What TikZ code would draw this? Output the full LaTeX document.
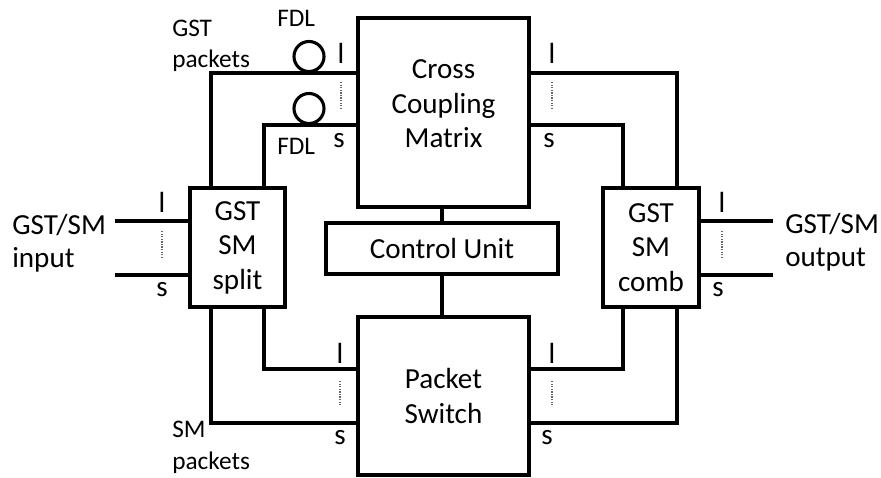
\documentclass[tikz,border=0pt]{standalone}
\usepackage{fontspec}
\setmainfont{Carlito}
\usetikzlibrary{positioning}
\tikzset{
  wire/.style={line width=2.2pt},
  blk/.style={draw,line width=2.2pt,fill=white,align=center,inner sep=0pt,font=\fontsize{20.7}{24.5}\selectfont},
  blktxt/.style={align=center,inner sep=0pt,font=\fontsize{20.7}{24.5}\selectfont},
  port/.style={anchor=base,inner sep=0pt,font=\fontsize{20.7}{24}\selectfont},
  io/.style={anchor=base west,align=left,inner sep=0pt,font=\fontsize{20.7}{23.5}\selectfont},
  note/.style={anchor=base west,align=left,inner sep=0pt,font=\fontsize{18}{22.5}\selectfont},
  fdl/.style={circle,draw,line width=2.2pt,fill=white,minimum size=0.75cm,inner sep=0pt},
  gap/.style={densely dotted,gray!80!black,line width=0.8pt,shorten <=0.45cm,shorten >=0.6cm},
}
\begin{document}
\begin{tikzpicture}[x=0.025cm,y=-0.025cm]
\useasboundingbox (0,0) rectangle (881,478);
% blocks
\node[blk,minimum width=4.275cm,minimum height=4.725cm,
  label={[blktxt,yshift=0.22cm]center:Cross\\Coupling\\Matrix}] (ccm) at (443.5,112.5) {};
\node[blk,minimum width=4.275cm,minimum height=3.95cm] (ps) at (443.5,396) {Packet\\Switch};
\node[blk,minimum width=5.8cm,minimum height=1.275cm] (cu) at (442,248.5) {Control Unit};
\node[blk,minimum width=2.375cm,minimum height=2.975cm] (split) at (237.5,247.5) {GST\\SM\\split};
\node[blk,minimum width=2.4cm,minimum height=2.975cm] (comb) at (651,247.5) {GST\\SM\\comb};
% wire columns and rows
\coordinate (xa) at (211,0);
\coordinate (xb) at (264,0);
\coordinate (xc) at (623,0);
\coordinate (xd) at (677,0);
\coordinate (ya) at (0,73);
\coordinate (yb) at (0,125);
\coordinate (yc) at (0,369);
\coordinate (yd) at (0,423);
\coordinate (in1) at (115,221);
\coordinate (in2) at (115,275);
\coordinate (out1) at (773,221);
\coordinate (out2) at (773,275);
% wires
\draw[wire] (split.north -| xa) |- (ccm.west |- ya);
\draw[wire] (split.north -| xb) |- (ccm.west |- yb);
\draw[wire] (ccm.east |- ya) -| (comb.north -| xd);
\draw[wire] (ccm.east |- yb) -| (comb.north -| xc);
\draw[wire] (split.south -| xb) |- (ps.west |- yc);
\draw[wire] (split.south -| xa) |- (ps.west |- yd);
\draw[wire] (ps.east |- yc) -| (comb.south -| xc);
\draw[wire] (ps.east |- yd) -| (comb.south -| xd);
\draw[wire] (cu.north |- ccm.south) -- (cu.north);
\draw[wire] (cu.south) -- (cu.south |- ps.north);
\draw[wire] (in1) -- (split.west |- in1);
\draw[wire] (in2) -- (split.west |- in2);
\draw[wire] (comb.east |- out1) -- (out1);
\draw[wire] (comb.east |- out2) -- (out2);
% fibre delay lines
\node[fdl] (fdla) at (309,56.5) {};
\node[fdl] (fdlb) at (309,108.5) {};
% l / s ports
\node[port] (l1) at (341,64) {l};
\node[port] (s1) at (339,148) {s};
\node[port] (l2) at (552,64) {l};
\node[port] (s2) at (549,148) {s};
\node[port] (l3) at (340,363) {l};
\node[port] (s3) at (340,444) {s};
\node[port] (l4) at (552,363) {l};
\node[port] (s4) at (547,444) {s};
\node[port] (l5) at (162,213) {l};
\node[port] (s5) at (162,297) {s};
\node[port] (l6) at (722,213) {l};
\node[port] (s6) at (718,297) {s};
\foreach \n in {1,...,6}
  \draw[gap] (l\n.south) -- (l\n.south |- s\n.north);
% labels
\node[io] (inp) at (12,268) {GST/SM\\input};
\node[io] (outp) at (785,267) {GST/SM\\output};
\node[note] (gstp) at (172,68) {GST\\packets};
\node[note] (smp) at (172,469) {SM\\packets};
\node[note] (fdlta) at (277,27) {FDL};
\node[note] (fdltb) at (277,155) {FDL};
\end{tikzpicture}
\end{document}
